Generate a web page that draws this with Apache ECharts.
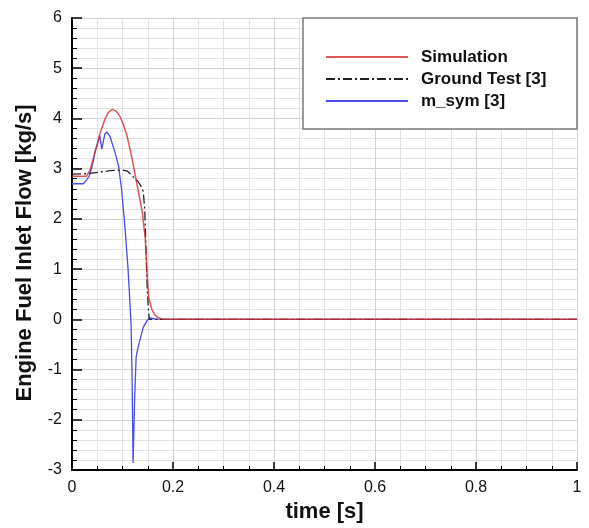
<!DOCTYPE html>
<html>
<head>
<meta charset="utf-8">
<script src="https://cdn.jsdelivr.net/npm/echarts@6/dist/echarts.min.js"></script>
<style>html,body{margin:0;padding:0;background:#fff}#c{width:589px;height:528px}</style>
</head>
<body>
<div id="c"></div>
<script>
// ---- data ----
const simT = [0, 0.029, 0.036, 0.042, 0.049, 0.055, 0.065, 0.072, 0.080, 0.088, 0.095, 0.102, 0.109, 0.119, 0.129, 0.139, 0.145, 0.149, 0.152, 0.158, 0.164, 0.170, 0.180, 1.0];
const simV = [2.85, 2.85, 2.98, 3.2, 3.45, 3.69, 3.98, 4.12, 4.18, 4.14, 4.04, 3.87, 3.65, 3.2, 2.67, 2.15, 1.62, 0.85, 0.43, 0.2, 0.09, 0.04, 0.0, 0.0];

const gtT = [0, 0.03, 0.055, 0.075, 0.09, 0.10, 0.11, 0.119, 0.125, 0.131, 0.136, 0.141, 0.144, 0.147, 0.149, 0.151, 0.153, 0.155, 0.16, 1.0];
const gtV = [2.89, 2.90, 2.93, 2.96, 2.97, 2.97, 2.95, 2.86, 2.80, 2.74, 2.66, 2.55, 2.2, 1.22, 0.63, 0.24, 0.0, -0.02, 0.0, 0.0];

const symT = [0, 0.022, 0.027, 0.034, 0.040, 0.046, 0.052, 0.055, 0.059, 0.065, 0.069, 0.075, 0.085, 0.092, 0.098, 0.105, 0.111, 0.117, 0.119, 0.121, 0.124, 0.127, 0.131, 0.141, 0.149, 0.154, 0.165, 0.18, 1.0];
const symV = [2.70, 2.70, 2.75, 2.85, 3.05, 3.35, 3.55, 3.66, 3.39, 3.69, 3.73, 3.65, 3.33, 3.06, 2.6, 1.82, 1.0, -0.1, -1.2, -2.86, -1.6, -0.75, -0.55, -0.16, -0.02, 0.03, 0.01, 0.0, 0.0];

const seriesNames = ['Simulation', 'Ground Test [3]', 'm_sym [3]'];
const xTickLabels = ['0', '0.2', '0.4', '0.6', '0.8', '1'];
const yTickLabels = ['-3', '-2', '-1', '0', '1', '2', '3', '4', '5', '6'];

function pairs(t, v) { return t.map((x, i) => [x, v[i]]); }

const FONT = '"Liberation Sans", Arial, sans-serif';
const chart = echarts.init(document.getElementById('c'), null, { renderer: 'canvas' });

chart.setOption({
  animation: false,
  backgroundColor: '#fff',
  grid: { left: 72, right: 12, top: 18, bottom: 54, containLabel: false },
  xAxis: {
    type: 'value', min: 0, max: 1, interval: 0.2,
    name: 'time [s]', nameLocation: 'middle', nameGap: 31,
    nameTextStyle: { fontFamily: FONT, fontSize: 22, fontWeight: 'bold', color: '#111' },
    axisLine: { show: true, onZero: false, lineStyle: { color: '#000', width: 2 } },
    axisTick: { show: true, inside: true, length: 8, lineStyle: { color: '#000', width: 1.5 } },
    minorTick: { show: true, splitNumber: 4, length: 4, lineStyle: { color: '#000', width: 1 } },
    splitLine: { show: true, lineStyle: { color: '#d2d2d2', width: 1 } },
    minorSplitLine: { show: true, lineStyle: { color: '#e3e3e3', width: 1 } },
    axisLabel: { fontFamily: FONT, fontSize: 16, color: '#111', margin: 10,
      formatter: (v) => xTickLabels[Math.round(v / 0.2)] }
  },
  yAxis: {
    type: 'value', min: -3, max: 6, interval: 1,
    name: 'Engine Fuel Inlet Flow [kg/s]', nameLocation: 'middle', nameGap: 36,
    nameTextStyle: { fontFamily: FONT, fontSize: 22, fontWeight: 'bold', color: '#111', padding: [0, 18, 0, 0] },
    axisLine: { show: true, onZero: false, lineStyle: { color: '#000', width: 2 } },
    axisTick: { show: true, inside: true, length: 10, lineStyle: { color: '#000', width: 1.5 } },
    minorTick: { show: true, splitNumber: 5, length: 5, lineStyle: { color: '#000', width: 1 } },
    splitLine: { show: true, lineStyle: { color: '#d2d2d2', width: 1 } },
    minorSplitLine: { show: true, lineStyle: { color: '#e3e3e3', width: 1 } },
    axisLabel: { fontFamily: FONT, fontSize: 16, color: '#111', margin: 10,
      formatter: (v) => yTickLabels[Math.round(v + 3)] }
  },
  legend: {
    orient: 'vertical', left: 325, top: 47, z: 20,
    padding: 0, itemGap: 2, itemWidth: 82, itemHeight: 14,
    data: seriesNames,
    itemStyle: { opacity: 0 },
    textStyle: { fontFamily: FONT, fontSize: 17, fontWeight: 'bold', color: '#111', lineHeight: 20, padding: [0, 0, 0, 8] }
  },
  graphic: [{
    type: 'rect', z: 10,
    shape: { x: 303, y: 18, width: 274, height: 111 },
    style: { fill: '#fff', stroke: '#7a7a7a', lineWidth: 1.5 }
  }],
  series: [
    { name: seriesNames[2], type: 'line', symbol: 'none', data: pairs(symT, symV),
      lineStyle: { color: '#4b4bf0', width: 1.3 }, itemStyle: { color: '#4b4bf0' }, z: 3 },
    { name: seriesNames[1], type: 'line', symbol: 'none', data: pairs(gtT, gtV),
      lineStyle: { color: '#222', width: 1.3, type: [9, 3, 2, 3] }, itemStyle: { color: '#222' }, z: 4 },
    { name: seriesNames[0], type: 'line', symbol: 'none', data: pairs(simT, simV),
      lineStyle: { color: '#d42c2c', width: 1.5, opacity: 0.8 }, itemStyle: { color: '#d42c2c' }, z: 5 }
  ]
});
</script>
</body>
</html>
